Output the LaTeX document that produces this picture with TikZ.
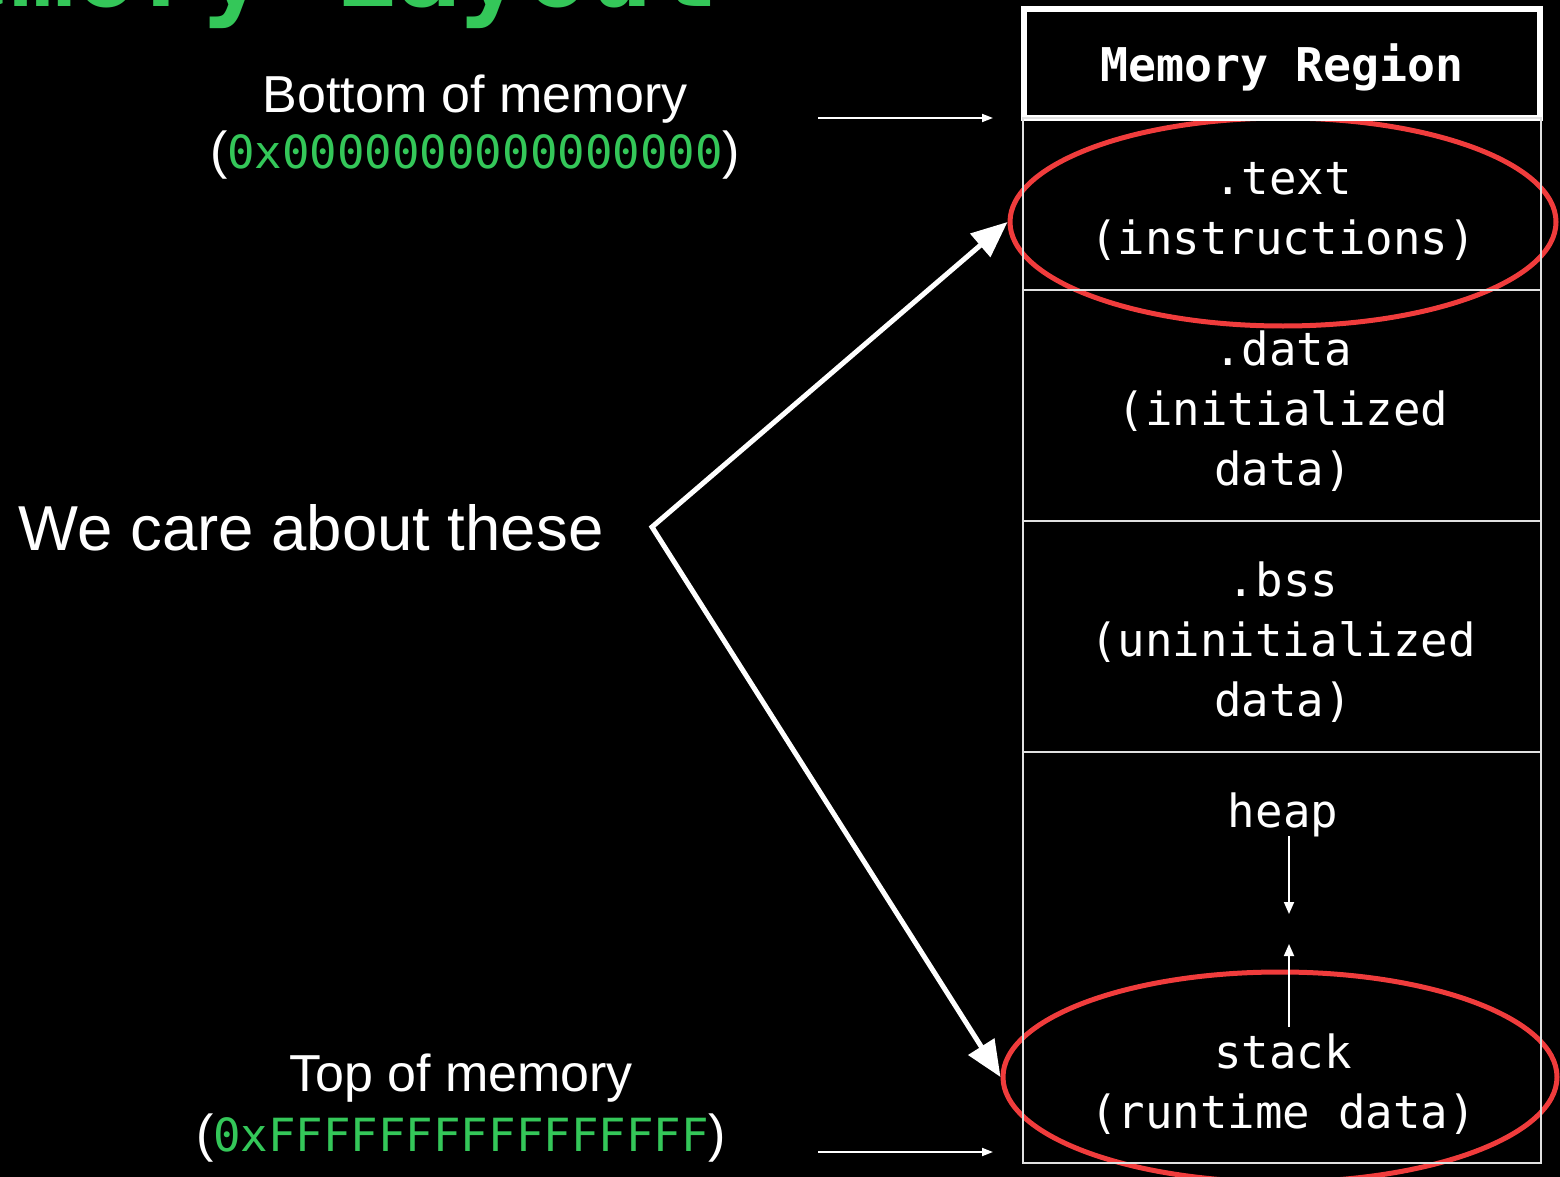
\documentclass[tikz,border=0pt]{standalone}
\usepackage{fontspec}
\setmainfont{Liberation Sans}
\setmonofont{DejaVu Sans Mono}
\usetikzlibrary{arrows.meta,shapes.geometric}
\definecolor{hexgreen}{RGB}{52,199,89}
\definecolor{ringred}{RGB}{240,60,60}
\definecolor{rule}{RGB}{225,225,225}
\newcommand{\hexaddr}[1]{\textcolor{hexgreen}{\ttfamily\fontsize{45.7}{60}\selectfont #1}}

\begin{document}
\begin{tikzpicture}[x=1pt,y=-1pt,
  monolabel/.style={anchor=base, inner sep=0pt, text=white,
    font=\ttfamily\fontsize{45.7}{60}\selectfont},
  sanslabel/.style={anchor=base, inner sep=0pt, text=white,
    font=\fontsize{52}{60}\selectfont},
  cell/.style={draw=rule, line width=2pt, minimum width=518pt, inner sep=0pt, outer sep=0pt},
  ring/.style={ellipse, draw=ringred, line width=5pt, inner sep=0pt},
  thinarrow/.style={draw=white, line width=1.8pt, -{Triangle[length=11pt,width=8pt]}},
  bigarrow/.style={draw=white, line width=5pt, line join=miter,
    {Triangle[length=36pt,width=30pt]}-{Triangle[length=36pt,width=30pt]}}
]
% canvas
\fill[black] (0,0) rectangle (1560,1177);
\useasboundingbox (0,0) rectangle (1560,1177);
\clip (0,0) rectangle (1560,1177);

% title, mostly above the top edge
\node[anchor=base, inner sep=0pt, text=hexgreen,
  font=\ttfamily\bfseries\fontsize{107}{107}\selectfont] (title) at (300,7) {Memory Layout};

% highlight rings
\node[ring, minimum width=546pt, minimum height=208pt] (ringtext) at (1283,222) {};
\node[ring, minimum width=554pt, minimum height=210pt] (ringstack) at (1280,1077) {};

% memory table
\node[draw=white, line width=6pt, minimum width=516pt, minimum height=109pt,
  inner sep=0pt, outer sep=0pt] (header) at (1282,63.5) {};
\node[anchor=base, inner sep=0pt, text=white,
  font=\ttfamily\bfseries\fontsize{46.5}{60}\selectfont] (headerlbl) at (1282,82) {Memory Region};
\node[cell, minimum height=172pt] (celltext) at (1282,204) {};
\node[cell, minimum height=231pt] (celldata) at (1282,405.5) {};
\node[cell, minimum height=231pt] (cellbss) at (1282,636.5) {};
\node[cell, minimum height=411pt] (cellheap) at (1282,957.5) {};

% region labels
\node[monolabel] (texta) at (1283,194) {.text};
\node[monolabel] (textb) at (1283,254) {(instructions)};
\node[monolabel] (dataa) at (1283,365) {.data};
\node[monolabel] (datab) at (1283,425) {(initialized};
\node[monolabel] (datac) at (1283,485) {data)};
\node[monolabel] (bssa) at (1283,596) {.bss};
\node[monolabel] (bssb) at (1283,656) {(uninitialized};
\node[monolabel] (bssc) at (1283,716) {data)};
\node[monolabel] (heap) at (1283,827) {heap};
\node[monolabel] (stacka) at (1283,1068) {stack};
\node[monolabel] (stackb) at (1283,1128) {(runtime data)};

% growth directions of heap and stack
\coordinate (heapfrom) at (1289,836);
\coordinate (heapto) at (1289,914);
\coordinate (stackfrom) at (1289,1027);
\coordinate (stackto) at (1289,944);
\draw[thinarrow, -{Triangle[length=12pt,width=10pt]}] (heapfrom) -- (heapto);
\draw[thinarrow, -{Triangle[length=12pt,width=10pt]}] (stackfrom) -- (stackto);

% address labels on the left
\node[sanslabel] (bottomlbl) at (475,113) {Bottom of memory};
\node[sanslabel] (bottomaddr) at (475,169) {(\hexaddr{0x0000000000000000})};
\node[sanslabel] (toplbl) at (461,1091) {Top of memory};
\node[sanslabel] (topaddr) at (461,1151) {(\hexaddr{0xFFFFFFFFFFFFFFFF})};

\coordinate (bottomfrom) at (818,118);
\coordinate (bottomto) at (993,118);
\coordinate (topfrom) at (818,1152);
\coordinate (topto) at (993,1152);
\draw[thinarrow] (bottomfrom) -- (bottomto);
\draw[thinarrow] (topfrom) -- (topto);

% callout
\node[anchor=base, inner sep=0pt, text=white, font=\fontsize{63.5}{70}\selectfont]
  (care) at (311,550) {We care about these};
\coordinate (fork) at (652,527);
\draw[bigarrow] (ringtext.west) -- (fork) -- (ringstack.west);
\end{tikzpicture}
\end{document}
